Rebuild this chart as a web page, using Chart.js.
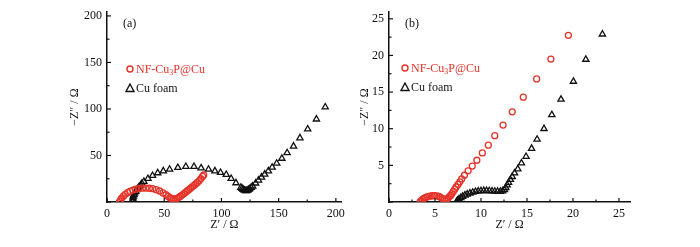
<!DOCTYPE html>
<html lang="en">
  <head>
    <meta charset="UTF-8" />
    <title>EIS Nyquist plots</title>
    <script src="https://cdn.jsdelivr.net/npm/chart.js"></script>
    <style>
      body { margin: 0; background: #fff; font-family: 'Liberation Serif', serif; }
      #wrap { position: relative; width: 700px; height: 247px; }
      .pane { position: absolute; top: 0; width: 350px; height: 247px; }
      .tag { position: absolute; font-size: 12px; color: #111; }
      .leg { position: absolute; font-size: 12px; line-height: 14px; white-space: nowrap; }
      .leg sub { font-size: 8px; vertical-align: -2px; line-height: 0; }
      .mk { display: inline-block; width: 12px; height: 10px; vertical-align: -1px; }
    </style>
  </head>
  <body>
    <div id="wrap">
      <div class="pane" style="left:0"><canvas id="chartA" width="350" height="247"></canvas></div>
      <div class="pane" style="left:350px"><canvas id="chartB" width="350" height="247"></canvas></div>

      <div class="tag" style="left:123px; top:16px">(a)</div>
      <div class="leg" style="left:124px; top:62px; color:#e53228">
        <svg class="mk"><circle cx="6" cy="5" r="3" fill="none" stroke="#e53228" stroke-width="1.4" /></svg>NF-Cu<sub>3</sub>P@Cu
      </div>
      <div class="leg" style="left:124px; top:81px; color:#111">
        <svg class="mk"><polygon points="6,1 10,8.5 2,8.5" fill="none" stroke="#111" stroke-width="1.4" /></svg>Cu foam
      </div>

      <div class="tag" style="left:405px; top:16px">(b)</div>
      <div class="leg" style="left:399px; top:61px; color:#e53228">
        <svg class="mk"><circle cx="6" cy="5" r="3" fill="none" stroke="#e53228" stroke-width="1.4" /></svg>NF-Cu<sub>3</sub>P@Cu
      </div>
      <div class="leg" style="left:399px; top:80px; color:#111">
        <svg class="mk"><polygon points="6,1 10,8.5 2,8.5" fill="none" stroke="#111" stroke-width="1.4" /></svg>Cu foam
      </div>
    </div>

    <script>
      // Panel (a): full-range spectra, Z' vs -Z'' (ohm)
      const cu3pA_x = [11, 12, 13, 14.5, 16, 18, 20, 22.5, 25, 28, 31, 34, 37, 40, 43, 46, 49, 51.5, 53.5, 55, 56.5, 58, 59.5, 61, 62.5, 64, 65.5, 67, 68.5, 70, 71.5, 73, 74.5, 76, 77.5, 79, 80.5, 82, 83.5, 84.5];
      const cu3pA_y = [0.5, 2.5, 4.5, 6.5, 8.3, 10, 11.5, 12.8, 13.8, 14.5, 14.9, 15, 14.8, 14.3, 13.3, 11.8, 9.8, 7.8, 6, 4.6, 3.6, 3.1, 3.2, 3.8, 4.8, 6, 7.4, 8.8, 10.3, 11.8, 13.3, 14.8, 16.3, 17.8, 19.4, 21, 22.8, 25, 27.5, 29];
      const foamA_x = [22.3, 22.5, 22.7, 23, 23.6, 24.2, 25.1, 26, 27.1, 28, 29.3, 30.5, 32.2, 35.8, 39.8, 44.3, 49.2, 54.7, 61.9, 68.9, 76, 82.2, 88.7, 94.3, 99.2, 104.2, 108.5, 112.7, 117, 118, 119, 120, 121.2, 122, 123, 123.8, 124.7, 126, 127.3, 129.9, 132.4, 135, 137.8, 141, 144.3, 148.3, 152.8, 157.4, 163, 168.6, 175.4, 183, 190.7];
      const foamA_y = [0.3, 2, 4.3, 6, 7.8, 9.5, 11.3, 13, 14.7, 16.3, 18, 20, 22, 25.2, 28.4, 31.2, 33.3, 35.1, 36.9, 38, 38, 36.5, 35.1, 33.3, 31.6, 29.4, 25.2, 20.5, 15.6, 14.5, 13.5, 12.6, 12, 12.1, 12.6, 13.3, 14.2, 15.6, 17, 20.2, 23.4, 26.6, 29.8, 33.3, 37.2, 41.5, 46.8, 52.8, 59.9, 68.8, 78.4, 89, 102];

      // Panel (b): zoomed spectra
      const cu3pB_x = [3.4, 3.5, 3.65, 3.8, 4.0, 4.2, 4.45, 4.7, 4.95, 5.2, 5.45, 5.65, 5.85, 6.05, 6.25, 6.4, 6.55, 6.7, 6.85, 7.0, 7.15, 7.3, 7.5, 7.7, 7.9, 8.2, 8.6, 9.05, 9.55, 10.15, 10.8, 11.5, 12.4, 13.4, 14.6, 16.05, 17.6, 19.5];
      const cu3pB_y = [0.05, 0.2, 0.35, 0.5, 0.62, 0.72, 0.8, 0.85, 0.86, 0.83, 0.75, 0.6, 0.45, 0.35, 0.38, 0.5, 0.7, 0.9, 1.15, 1.45, 1.75, 2.05, 2.4, 2.75, 3.15, 3.65, 4.25, 4.9, 5.7, 6.7, 7.75, 9.05, 10.5, 12.3, 14.3, 16.8, 19.5, 22.75];
      const foamB_x = [7.35, 7.45, 7.6, 7.8, 8.0, 8.25, 8.5, 8.8, 9.1, 9.4, 9.7, 10.0, 10.3, 10.6, 10.9, 11.2, 11.5, 11.8, 12.1, 12.35, 12.55, 12.7, 12.85, 13.0, 13.2, 13.4, 13.65, 14.0, 14.4, 14.9, 15.5, 16.1, 16.85, 17.7, 18.7, 20.05, 21.4, 23.2];
      const foamB_y = [0.05, 0.22, 0.4, 0.58, 0.75, 0.92, 1.06, 1.2, 1.32, 1.42, 1.48, 1.52, 1.54, 1.54, 1.52, 1.49, 1.46, 1.44, 1.44, 1.5, 1.68, 1.95, 2.3, 2.65, 3.05, 3.45, 3.95, 4.5, 5.3, 6.2, 7.3, 8.55, 10.0, 11.9, 14.0, 16.45, 19.45, 22.9];

      // Axis ticks
      const xTicksA = [0, 50, 100, 150, 200];
      const yTicksA = [50, 100, 150, 200];
      const xTicksB = [0, 5, 10, 15, 20, 25];
      const yTicksB = [5, 10, 15, 20, 25];

      const RED = '#e53228';
      const INK = '#111';
      const serif = { family: "'Liberation Serif', serif", size: 12 };

      const toPoints = (xs, ys) => xs.map((x, i) => ({ x: x, y: ys[i] }));

      // tick marks pointing into the plot, with a minor tick halfway between majors
      const inwardTicks = {
        id: 'inwardTicks',
        afterDraw(chart) {
          const ctx = chart.ctx;
          const area = chart.chartArea;
          ctx.save();
          ctx.strokeStyle = INK;
          ctx.lineWidth = 1.2;
          ['x', 'y'].forEach((id) => {
            const scale = chart.scales[id];
            const vals = [scale.min].concat(scale.ticks.map((t) => t.value));
            const marks = [];
            vals.forEach((v, i) => {
              marks.push({ v: v, len: 4 });
              const next = i < vals.length - 1 ? vals[i + 1] : v + (v - vals[i - 1]);
              const mid = (v + next) / 2;
              if (mid < scale.max && next > v) marks.push({ v: mid, len: 2.5 });
            });
            marks.forEach((m) => {
              const p = scale.getPixelForValue(m.v);
              ctx.beginPath();
              if (id === 'x') {
                ctx.moveTo(p, area.bottom);
                ctx.lineTo(p, area.bottom - m.len);
              } else {
                ctx.moveTo(area.left, p);
                ctx.lineTo(area.left + m.len, p);
              }
              ctx.stroke();
            });
          });
          ctx.restore();
        },
      };

      function makeChart(canvasId, opts) {
        new Chart(document.getElementById(canvasId), {
          type: 'scatter',
          data: {
            datasets: [
              {
                label: 'NF-Cu3P@Cu',
                data: toPoints(opts.redX, opts.redY),
                pointStyle: 'circle',
                pointRadius: 3,
                borderColor: RED,
                backgroundColor: 'rgba(0,0,0,0)',
                borderWidth: 1.3,
              },
              {
                label: 'Cu foam',
                data: toPoints(opts.blackX, opts.blackY),
                pointStyle: 'triangle',
                pointRadius: 3.6,
                borderColor: INK,
                backgroundColor: 'rgba(0,0,0,0)',
                borderWidth: 1.3,
              },
            ],
          },
          options: {
            responsive: false,
            animation: false,
            layout: { padding: opts.padding },
            plugins: { legend: { display: false }, tooltip: { enabled: false } },
            scales: {
              x: {
                min: 0,
                max: opts.xMax,
                afterBuildTicks: (s) => { s.ticks = opts.xTicks.map((v) => ({ value: v })); },
                afterFit: (s) => { s.height = opts.xHeight; },
                grid: { display: false, drawTicks: false },
                border: { display: true, color: INK, width: 1.5 },
                ticks: { color: INK, font: serif, padding: 5, maxRotation: 0 },
                title: { display: true, text: 'Z\u2032 / \u03A9', color: INK, font: serif, padding: 0 },
              },
              y: {
                min: 0,
                max: opts.yMax,
                afterBuildTicks: (s) => { s.ticks = opts.yTicks.map((v) => ({ value: v })); },
                afterFit: (s) => { s.width = opts.yWidth; },
                grid: { display: false, drawTicks: false },
                border: { display: true, color: INK, width: 1.5 },
                ticks: { color: INK, font: serif, padding: 5 },
                title: { display: true, text: '\u2212Z\u2033 / \u03A9', color: INK, font: serif, padding: 0 },
              },
            },
          },
          plugins: [inwardTicks],
        });
      }

      makeChart('chartA', {
        redX: cu3pA_x, redY: cu3pA_y, blackX: foamA_x, blackY: foamA_y,
        xMax: 205, yMax: 204, xTicks: xTicksA, yTicks: yTicksA,
        padding: { left: 68, right: 2, top: 10, bottom: 15 },
        xHeight: 30, yWidth: 39,
      });

      makeChart('chartB', {
        redX: cu3pB_x, redY: cu3pB_y, blackX: foamB_x, blackY: foamB_y,
        xMax: 26.2, yMax: 25.9, xTicks: xTicksB, yTicks: yTicksB,
        padding: { left: 8, right: 70, top: 10, bottom: 15 },
        xHeight: 30, yWidth: 31,
      });
    </script>
  </body>
</html>
